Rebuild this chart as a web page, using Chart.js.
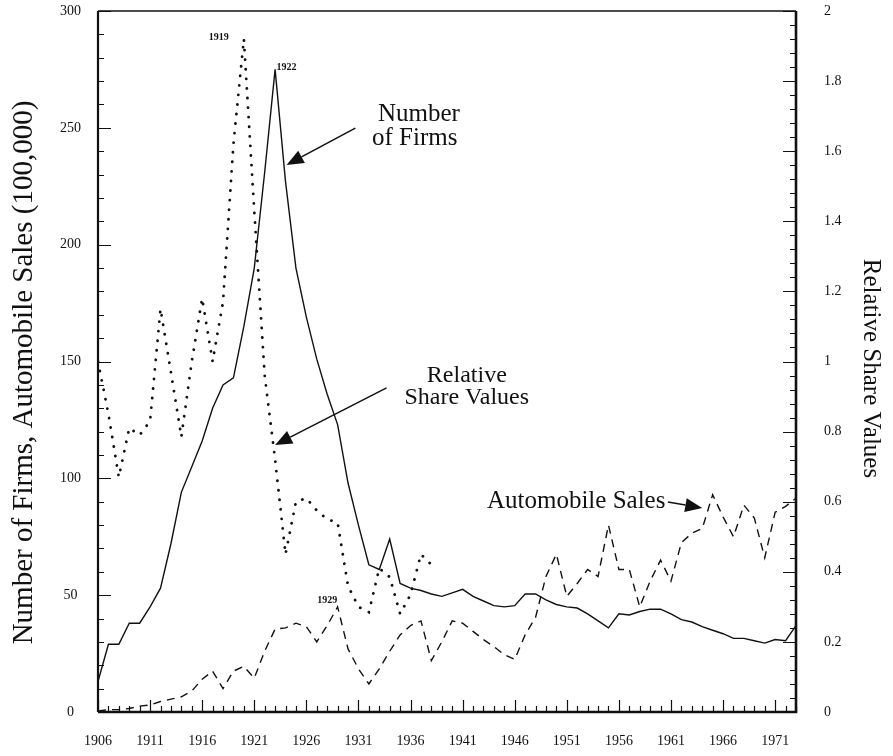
<!DOCTYPE html>
<html lang="en">
<head>
<meta charset="UTF-8">
<title>Number of Firms, Automobile Sales and Relative Share Values</title>
<script src="https://cdn.jsdelivr.net/npm/chart.js"></script>
<style>
  body { margin: 0; background: #fff; }
  .wrap { width: 893px; height: 756px; }
</style>
</head>
<body>
<div class="wrap"><canvas id="grafico" width="893" height="756"></canvas></div>

<script>
// values, one per year
const years = [1906, 1907, 1908, 1909, 1910, 1911, 1912, 1913, 1914, 1915,
  1916, 1917, 1918, 1919, 1920, 1921, 1922, 1923, 1924, 1925,
  1926, 1927, 1928, 1929, 1930, 1931, 1932, 1933, 1934, 1935,
  1936, 1937, 1938, 1939, 1940, 1941, 1942, 1943, 1944, 1945,
  1946, 1947, 1948, 1949, 1950, 1951, 1952, 1953, 1954, 1955,
  1956, 1957, 1958, 1959, 1960, 1961, 1962, 1963, 1964, 1965,
  1966, 1967, 1968, 1969, 1970, 1971, 1972, 1973];

const firms = [13, 29, 29, 38, 38, 45, 53, 72, 94, 105,
  116, 130, 140, 143, 165, 190, 231, 275, 227, 190,
  169, 151, 136, 123, 98, 80, 63, 61, 74, 55,
  53, 52, 50.5, 49.5, 51, 52.5, 49.5, 47.5, 45.5, 45,
  45.5, 50.5, 50.5, 48, 46, 45, 44.5, 42, 39, 36,
  42, 41.5, 43, 44, 44, 42, 39.5, 38.5, 36.5, 35,
  33.5, 31.5, 31.5, 30.5, 29.5, 31, 30.5, 37];

const autoSales = [0.5, 1, 1, 1.5, 2.5, 3, 4.5, 5.5, 6.5, 9,
  14, 17.5, 10, 17.5, 19.5, 14.5, 26, 35.5, 36, 38,
  36.5, 30, 37, 45, 27, 18.5, 12, 18.5, 26, 33,
  37, 39, 22, 30, 39, 38, 34.5, 31, 28, 24.5,
  22.5, 33, 40.5, 58, 67.5, 49.5, 55, 61, 58, 80,
  61, 61, 45, 56, 65, 56, 72.5, 76.5, 78.5, 93,
  83.5, 75, 88.5, 83, 66, 85.5, 88, 91.5];

// relative share values stop in 1938
const shareValues = [1.0, 0.85, 0.67, 0.81, 0.79, 0.83, 1.15, 0.97, 0.785, 1.0,
  1.18, 1.0, 1.17, 1.62, 1.92, 1.43, 0.96, 0.72, 0.45, 0.6,
  0.61, 0.575, 0.55, 0.54, 0.36, 0.3, 0.285, 0.41, 0.385, 0.28,
  0.335, 0.45, 0.42];

const yearTicks = [1906, 1911, 1916, 1921, 1926, 1931, 1936, 1941, 1946, 1951, 1956, 1961, 1966, 1971];

const serif = "'Liberation Serif', 'Times New Roman', serif";
const ink = '#111';

function pts(values) {
    return values.map((v, i) => ({ x: years[i], y: v }));
}

// notes on the figure, placed in (year, left axis value)
const notes = [
    { text: 'Number', x: 1936.8, y: 252.9, size: 25 },
    { text: 'of Firms', x: 1936.4, y: 242.6, size: 25 },
    { text: 'Relative', x: 1941.4, y: 141.2, size: 24 },
    { text: 'Share Values', x: 1941.4, y: 131.8, size: 24 },
    { text: 'Automobile Sales', x: 1951.9, y: 87.3, size: 25 },
    { text: '1919', x: 1917.6, y: 287.6, size: 10, bold: true },
    { text: '1922', x: 1924.1, y: 274.7, size: 10, bold: true },
    { text: '1929', x: 1928.0, y: 46.6, size: 10, bold: true }
];

const arrows = [
    { from: [1930.7, 249.9], to: [1924.1, 234.1] },
    { from: [1933.7, 138.7], to: [1923.0, 114.3] },
    { from: [1960.7, 89.9], to: [1964.0, 87.3] }
];

const axisTitles = {
    left: 'Number of Firms, Automobile Sales (100,000)',
    right: 'Relative Share Values'
};

// keep the tick labels from pushing the plot area down
function fixWidth(w) {
    return s => {
        s.width = w;
        s.paddingTop = 0;
        s.paddingBottom = 0;
    };
}

const figurePlugin = {
    id: 'figure',
    afterDraw(chart) {
        const { ctx, chartArea: a, scales } = chart;
        const sx = scales.x, sy = scales.y, sy2 = scales.y2;
        ctx.save();
        ctx.strokeStyle = ink;
        ctx.fillStyle = ink;

        // tick marks pointing inwards
        ctx.lineWidth = 1.2;
        ctx.beginPath();
        for (let v = 0; v <= 300; v += 10) {
            const y = Math.round(sy.getPixelForValue(v)) + 0.5;
            const len = v % 50 === 0 ? 13 : 6;
            ctx.moveTo(a.left, y);
            ctx.lineTo(a.left + len, y);
        }
        for (let k = 0; k <= 50; k++) {
            const y = Math.round(sy2.getPixelForValue(k * 0.04)) + 0.5;
            const len = k % 5 === 0 ? 13 : 6;
            ctx.moveTo(a.right, y);
            ctx.lineTo(a.right - len, y);
        }
        for (let yr = 1906; yr <= 1973; yr++) {
            const x = Math.round(sx.getPixelForValue(yr)) + 0.5;
            const len = (yr - 1906) % 5 === 0 ? 12 : 6;
            ctx.moveTo(x, a.bottom);
            ctx.lineTo(x, a.bottom - len);
        }
        ctx.stroke();

        // frame
        ctx.lineWidth = 1.6;
        ctx.beginPath();
        ctx.moveTo(a.left, a.top);
        ctx.lineTo(a.right, a.top);
        ctx.stroke();
        ctx.lineWidth = 2.2;
        ctx.beginPath();
        ctx.moveTo(a.left, a.top);
        ctx.lineTo(a.left, a.bottom);
        ctx.stroke();
        ctx.lineWidth = 2.6;
        ctx.beginPath();
        ctx.moveTo(a.left, a.bottom);
        ctx.lineTo(a.right, a.bottom);
        ctx.lineTo(a.right, a.top);
        ctx.stroke();

        // arrows
        ctx.lineWidth = 1.5;
        arrows.forEach(ar => {
            const x1 = sx.getPixelForValue(ar.from[0]), y1 = sy.getPixelForValue(ar.from[1]);
            const x2 = sx.getPixelForValue(ar.to[0]), y2 = sy.getPixelForValue(ar.to[1]);
            const ang = Math.atan2(y2 - y1, x2 - x1);
            const head = 17, half = 7;
            const bx = x2 - head * Math.cos(ang), by = y2 - head * Math.sin(ang);
            ctx.beginPath();
            ctx.moveTo(x1, y1);
            ctx.lineTo(bx, by);
            ctx.stroke();
            ctx.beginPath();
            ctx.moveTo(x2, y2);
            ctx.lineTo(bx + half * Math.sin(ang), by - half * Math.cos(ang));
            ctx.lineTo(bx - half * Math.sin(ang), by + half * Math.cos(ang));
            ctx.closePath();
            ctx.fill();
        });

        // text notes
        ctx.textAlign = 'center';
        ctx.textBaseline = 'alphabetic';
        notes.forEach(n => {
            ctx.font = (n.bold ? 'bold ' : '') + n.size + 'px ' + serif;
            ctx.fillText(n.text, sx.getPixelForValue(n.x), sy.getPixelForValue(n.y));
        });

        // axis titles, turned on their side
        ctx.font = '29px ' + serif;
        ctx.save();
        ctx.translate(a.left - 66, (a.top + a.bottom) / 2 + 11);
        ctx.rotate(-Math.PI / 2);
        ctx.fillText(axisTitles.left, 0, 0);
        ctx.restore();

        ctx.font = '25px ' + serif;
        ctx.save();
        ctx.translate(a.right + 68, (a.top + a.bottom) / 2 + 7);
        ctx.rotate(Math.PI / 2);
        ctx.fillText(axisTitles.right, 0, 0);
        ctx.restore();

        ctx.restore();
    }
};

const ctx = document.getElementById('grafico');
new Chart(ctx, {
    type: 'line',
    data: {
        datasets: [{
            label: 'Number of Firms',
            data: pts(firms),
            yAxisID: 'y',
            borderColor: ink,
            borderWidth: 1.4,
            pointRadius: 0,
            tension: 0
        }, {
            label: 'Automobile Sales',
            data: pts(autoSales),
            yAxisID: 'y',
            borderColor: ink,
            borderWidth: 1.4,
            borderDash: [8, 6],
            pointRadius: 0,
            tension: 0
        }, {
            label: 'Relative Share Values',
            data: pts(shareValues),
            yAxisID: 'y2',
            borderColor: ink,
            borderWidth: 2.8,
            borderDash: [0.1, 9.5],
            borderCapStyle: 'round',
            pointRadius: 0,
            tension: 0
        }]
    },
    options: {
        responsive: false,
        animation: false,
        devicePixelRatio: 1,
        layout: { padding: { top: 11, left: 0, right: 0, bottom: 0 } },
        plugins: {
            legend: { display: false },
            tooltip: { enabled: false }
        },
        scales: {
            x: {
                type: 'linear',
                min: 1906,
                max: 1973,
                afterBuildTicks: s => { s.ticks = yearTicks.map(v => ({ value: v })); },
                afterFit: s => {
                    s.height = 44;
                    s.paddingLeft = 0;
                    s.paddingRight = 0;
                },
                grid: { display: false, drawTicks: false },
                border: { display: false },
                ticks: {
                    color: ink,
                    padding: 21,
                    maxRotation: 0,
                    autoSkip: false,
                    font: { family: serif, size: 14 },
                    callback: v => String(v)
                }
            },
            y: {
                position: 'left',
                min: 0,
                max: 300,
                afterFit: fixWidth(98),
                grid: { display: false, drawTicks: false },
                border: { display: false },
                ticks: {
                    stepSize: 50,
                    color: ink,
                    padding: 17,
                    crossAlign: 'center',
                    font: { family: serif, size: 14 }
                }
            },
            y2: {
                position: 'right',
                min: 0,
                max: 2,
                afterFit: fixWidth(97),
                grid: { display: false, drawTicks: false },
                border: { display: false },
                ticks: {
                    stepSize: 0.2,
                    color: ink,
                    padding: 28,
                    font: { family: serif, size: 14 },
                    callback: v => String(Math.round(v * 10) / 10)
                }
            }
        }
    },
    plugins: [figurePlugin]
});
</script>
</body>
</html>
